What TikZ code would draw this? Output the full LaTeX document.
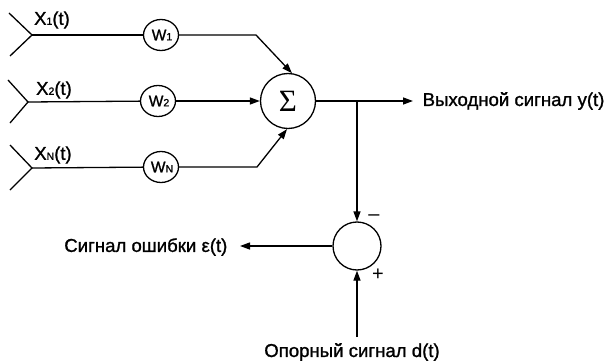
\documentclass[tikz,border=0pt]{standalone}
\usepackage{fontspec}
\setmainfont{Liberation Sans}[BoldFont={Liberation Sans}, BoldFeatures={FakeBold=1.2}]
\newfontfamily\sigmafont{Liberation Serif}
\usetikzlibrary{arrows.meta,shapes.geometric}
\newcommand{\smallidx}[1]{{\fontsize{10.5}{10.5}\selectfont #1}}
\begin{document}
\begin{tikzpicture}[x=1pt,y=-1pt, line width=1.3pt,
  wt/.style={ellipse,draw,minimum width=35pt,minimum height=31pt,inner sep=0pt,font=\bfseries\fontsize{15.5}{16}\selectfont},
  sumnode/.style={circle,draw,minimum size=55pt,inner sep=0pt},
  lbl/.style={font=\bfseries\fontsize{18.6}{20}\selectfont, inner sep=0pt},
  xlbl/.style={font=\bfseries\fontsize{18.5}{20}\selectfont, inner sep=0pt},
  sgn/.style={font=\fontsize{20}{20}\selectfont, inner sep=0pt},
  arr/.style={-{Triangle[length=10pt,width=7pt]}}]
\useasboundingbox (0,0) rectangle (608,361);
% forks
\coordinate (u1) at (9,13);  \coordinate (f1) at (32,35);  \coordinate (l1) at (10,56);
\coordinate (u2) at (8,80);  \coordinate (f2) at (28,102); \coordinate (l2) at (10,123);
\coordinate (uN) at (10,145);\coordinate (fN) at (32,168); \coordinate (lN) at (10,190);
% labels
\node[xlbl] (x1) at (52,20) {X\smallidx{1}(t)};
\node[xlbl] (x2) at (54,90) {X\smallidx{2}(t)};
\node[xlbl] (xN) at (53,155) {X\smallidx{N}(t)};
% weights
\node[wt] (w1) at (161,35) {\hspace*{2pt}W\smallidx{1}};
\node[wt] (w2) at (158,101) {\hspace*{2pt}W\smallidx{2}};
\node[wt] (wN) at (161,167) {\hspace*{2pt}W\smallidx{N}};
% summer
\node[sumnode] (sig) at (288,101) {\sigmafont\fontsize{31}{31}\selectfont Σ};
\coordinate (b1) at (256,35);
\coordinate (bN) at (257,167);
\draw (u1) -- (f1) -- (l1);
\draw (u2) -- (f2) -- (l2);
\draw (uN) -- (fN) -- (lN);
\draw (f1) -- (w1);
\draw (f2) -- (w2);
\draw (fN) -- (wN);
\draw[arr] (w1) -- (b1) -- (sig.82);
\draw[arr] (w2) -- (sig);
\draw[arr] (wN) -- (bN) -- (sig.-92);
% output
\coordinate (br) at (357,101);
\coordinate (otip) at (413,101);
\node[lbl, anchor=west] (outl) at (422,101) {Выходной сигнал y(t)};
\draw (sig) -- (br);
\draw[arr] (br) -- (otip);
% comparator
\node[circle,draw,minimum size=48pt,inner sep=0pt] (cmp) at (357,246) {};
\draw[arr] (br) -- (cmp.north);
\node[sgn] (minus) at (374,218) {–};
\node[sgn] (plus) at (378,275) {+};
\coordinate (etip) at (240,246);
\draw[arr] (cmp.west) -- (etip);
\node[lbl, anchor=east] (errl) at (228,247) {Сигнал ошибки ε(t)};
\coordinate (rbot) at (357,337);
\draw[arr] (rbot) -- (cmp.south);
\node[lbl] (refl) at (352,352) {Опорный сигнал d(t)};
\end{tikzpicture}
\end{document}
